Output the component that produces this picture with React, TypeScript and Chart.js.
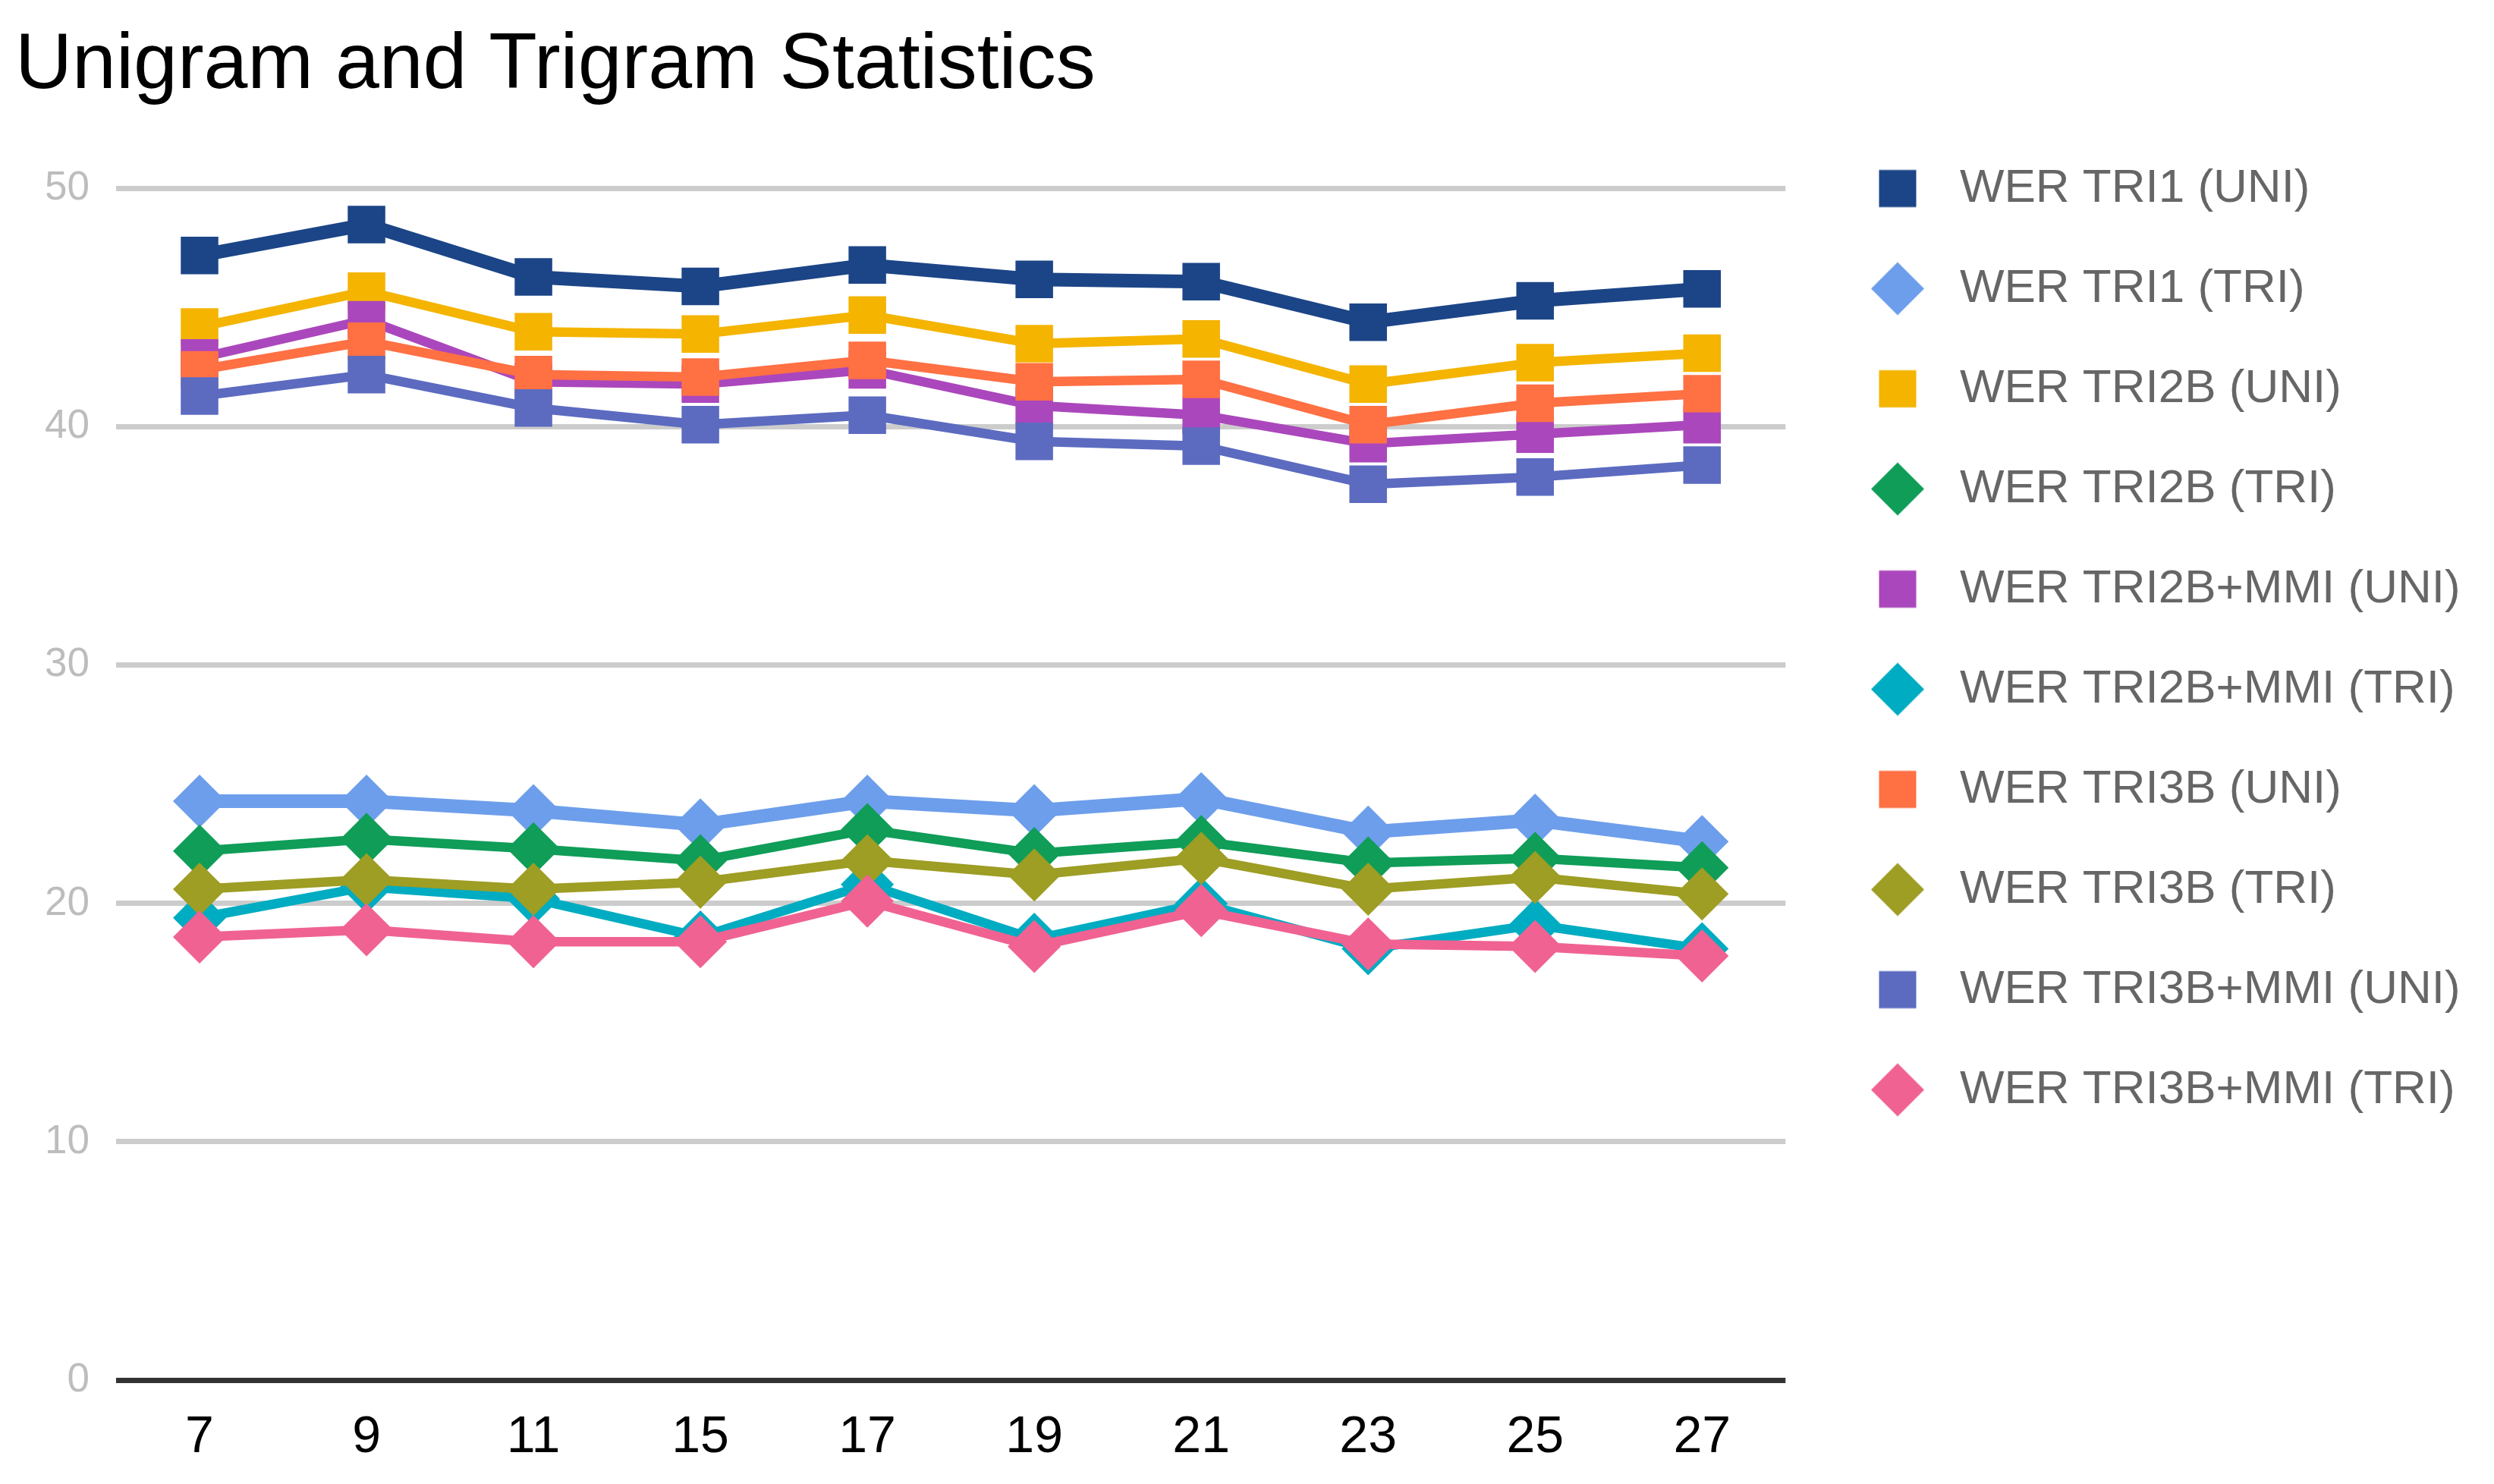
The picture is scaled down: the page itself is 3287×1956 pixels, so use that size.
import React, { useEffect, useRef } from 'react';
import { Chart, registerables } from 'chart.js';

Chart.register(...registerables);

const categories = ['7', '9', '11', '15', '17', '19', '21', '23', '25', '27'];

const seriesNames = [
  'WER TRI1 (UNI)',
  'WER TRI1 (TRI)',
  'WER TRI2B (UNI)',
  'WER TRI2B (TRI)',
  'WER TRI2B+MMI (UNI)',
  'WER TRI2B+MMI (TRI)',
  'WER TRI3B (UNI)',
  'WER TRI3B (TRI)',
  'WER TRI3B+MMI (UNI)',
  'WER TRI3B+MMI (TRI)',
];

const werTri1Uni = [47.2, 48.5, 46.3, 45.9, 46.8, 46.2, 46.1, 44.4, 45.3, 45.8];
const werTri1Tri = [24.3, 24.3, 23.9, 23.3, 24.3, 23.9, 24.4, 23.0, 23.5, 22.6];
const werTri2bUni = [44.2, 45.7, 44.0, 43.9, 44.7, 43.5, 43.7, 41.8, 42.7, 43.1];
const werTri2bTri = [22.2, 22.7, 22.3, 21.8, 23.1, 22.1, 22.6, 21.7, 21.9, 21.5];
const werTri2bMmiUni = [42.9, 44.5, 41.9, 41.8, 42.4, 40.9, 40.5, 39.3, 39.7, 40.1];
const werTri2bMmiTri = [19.4, 20.7, 20.2, 18.6, 20.8, 18.5, 20.0, 18.1, 19.1, 18.1];
const werTri3bUni = [42.4, 43.6, 42.2, 42.1, 42.8, 41.9, 42.0, 40.1, 41.0, 41.4];
const werTri3bTri = [20.6, 21.0, 20.6, 20.9, 21.8, 21.2, 21.9, 20.6, 21.1, 20.4];
const werTri3bMmiUni = [41.3, 42.2, 40.8, 40.1, 40.5, 39.4, 39.2, 37.6, 37.9, 38.4];
const werTri3bMmiTri = [18.6, 18.9, 18.4, 18.4, 20.1, 18.2, 19.7, 18.3, 18.2, 17.8];

const seriesValues = [
  werTri1Uni,
  werTri1Tri,
  werTri2bUni,
  werTri2bTri,
  werTri2bMmiUni,
  werTri2bMmiTri,
  werTri3bUni,
  werTri3bTri,
  werTri3bMmiUni,
  werTri3bMmiTri,
];

const seriesColors = [
  '#1c4587',
  '#6d9eeb',
  '#f4b400',
  '#0f9d58',
  '#ab47bc',
  '#00acc1',
  '#ff7043',
  '#9e9d24',
  '#5c6bc0',
  '#f06292',
];

const seriesShapes = ['rect', 'rectRot', 'rect', 'rectRot', 'rect', 'rectRot', 'rect', 'rectRot', 'rect', 'rectRot'];
const seriesLineWidths = [18, 18, 12.5, 12.5, 12.5, 12.5, 12.5, 12.5, 12.5, 12.5];

const yMin = 0;
const yMax = 50;
const yStep = 10;

const FONT = "'Liberation Sans', Arial, Helvetica, sans-serif";

function makeLegendMarker(color: string, shape: string): HTMLCanvasElement {
  const c = document.createElement('canvas');
  c.width = 72;
  c.height = 72;
  const ctx = c.getContext('2d')!;
  ctx.fillStyle = color;
  if (shape === 'rect') {
    ctx.fillRect(36 - 24.5, 36 - 24.5, 49, 49);
  } else {
    ctx.beginPath();
    ctx.moveTo(1, 36);
    ctx.lineTo(36, 1);
    ctx.lineTo(71, 36);
    ctx.lineTo(36, 71);
    ctx.closePath();
    ctx.fill();
  }
  return c;
}

export default function App() {
  const canvasRef = useRef<HTMLCanvasElement | null>(null);

  useEffect(() => {
    document.body.style.margin = '0';
    const canvas = canvasRef.current;
    if (!canvas) return;

    const markers = seriesColors.map((col, i) => makeLegendMarker(col, seriesShapes[i]));

    const legendPlacer = {
      id: 'legendPlacer',
      afterLayout(chart: any) {
        const lg = chart.legend;
        if (lg) {
          lg.left = 2380;
          lg.top = 147.5;
          lg.right = chart.width;
          lg.bottom = chart.height;
          lg.width = lg.right - lg.left;
          lg.height = lg.bottom - lg.top;
        }
      },
    };

    const chart = new Chart(canvas, {
      type: 'line',
      data: {
        labels: categories,
        datasets: seriesValues.map((vals, i) => ({
          label: seriesNames[i],
          data: vals,
          borderColor: seriesColors[i],
          backgroundColor: seriesColors[i],
          pointBackgroundColor: seriesColors[i],
          pointBorderColor: seriesColors[i],
          pointBorderWidth: 0,
          pointStyle: seriesShapes[i] as any,
          pointRadius: 35,
          pointHoverRadius: 35,
          borderWidth: seriesLineWidths[i],
          tension: 0,
          fill: false,
          order: -i,
        })),
      },
      options: {
        animation: false,
        responsive: true,
        maintainAspectRatio: false,
        devicePixelRatio: 1,
        layout: { padding: { left: 20, right: 156, top: 0, bottom: 0 } },
        plugins: {
          title: {
            display: true,
            text: 'Unigram and Trigram Statistics',
            align: 'start',
            color: '#000000',
            font: { family: FONT, size: 104, weight: 'normal', lineHeight: 1.2 },
            padding: { top: 25, bottom: 99 },
          },
          legend: {
            display: true,
            position: 'right',
            align: 'start',
            labels: {
              usePointStyle: true,
              pointStyleWidth: 102,
              color: '#666666',
              font: { family: FONT, size: 62 },
              padding: 70,
              generateLabels: (ch: any) => {
                const items = Chart.defaults.plugins.legend.labels.generateLabels(ch);
                items.sort((a: any, b: any) => a.datasetIndex - b.datasetIndex);
                return items.map((it: any) => ({ ...it, pointStyle: markers[it.datasetIndex], lineWidth: 0 }));
              },
            },
          },
          tooltip: { enabled: false },
        },
        scales: {
          x: {
            type: 'category',
            offset: true,
            grid: { display: false, drawTicks: false },
            border: { display: false },
            ticks: {
              color: '#000000',
              font: { family: FONT, size: 68 },
              padding: 35,
              maxRotation: 0,
              autoSkip: false,
            },
            afterFit: (scale: any) => {
              scale.height = 137;
            },
          },
          y: {
            type: 'linear',
            min: yMin,
            max: yMax,
            grid: {
              drawTicks: false,
              lineWidth: 7,
              color: (ctx: any) => (ctx.tick && ctx.tick.value === 0 ? '#333333' : '#cccccc'),
            },
            border: { display: false },
            ticks: {
              stepSize: yStep,
              color: '#bdbdbd',
              font: { family: FONT, size: 53 },
              padding: 35,
            },
            afterFit: (scale: any) => {
              scale.width = 133;
            },
          },
        },
      },
      plugins: [legendPlacer],
    });

    return () => {
      chart.destroy();
    };
  }, []);

  return (
    <div style={{ width: 3287, height: 1956, position: 'relative', background: '#ffffff' }}>
      <canvas ref={canvasRef} style={{ display: 'block' }} />
    </div>
  );
}
